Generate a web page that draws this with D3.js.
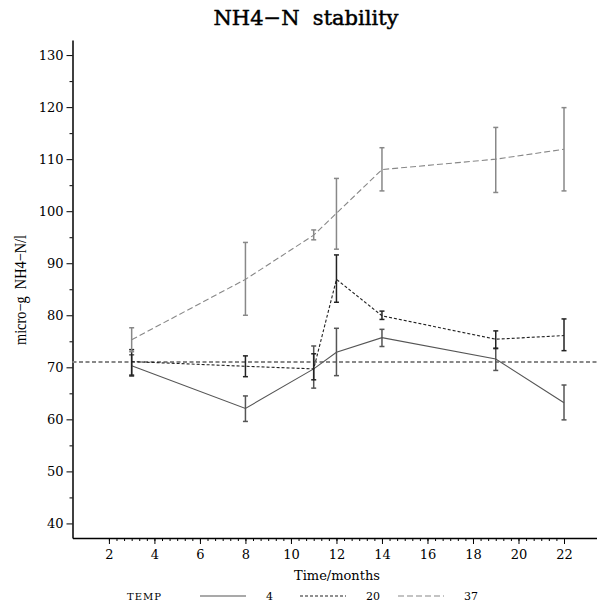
<!DOCTYPE html>
<head>
  <meta charset="utf-8">
  <title>NH4-N stability</title>
  <script src="https://d3js.org/d3.v7.min.js"></script>
  <style>
    body { margin: 0; background: #fff; }
    text { font-family: "DejaVu Serif", serif; }
  </style>
</head>
<body>
  <div id="chart"></div>

  <script type="text/javascript">

    // sampling times (months)
    var months = [3, 8, 11, 12, 14, 19, 22];

    // TEMP = 4
    var mean4 = [70.3, 62.1, 69.7, 72.9, 75.7, 71.6, 63.2];
    var low4  = [68.3, 59.6, 66.0, 68.4, 74.0, 69.4, 59.9];
    var high4 = [72.4, 64.5, 74.1, 77.5, 77.3, 73.7, 66.6];

    // TEMP = 20
    var mean20 = [71.1, 70.2, 69.7, 86.9, 79.9, 75.4, 76.1];
    var low20  = [68.5, 68.2, 67.6, 82.5, 79.2, 73.6, 73.2];
    var high20 = [73.4, 72.2, 72.6, 91.6, 80.8, 77.0, 79.3];

    // TEMP = 37
    var mean37 = [75.3, 86.9, 95.4, 99.6, 108.0, 110.0, 111.9];
    var low37  = [73.0, 80.0, 94.5, 92.7, 103.9, 103.6, 103.9];
    var high37 = [77.6, 94.0, 96.4, 106.3, 112.2, 116.1, 119.9];

    // reference level
    var refLevel = 71;

    var xTicks = [2, 4, 6, 8, 10, 12, 14, 16, 18, 20, 22];
    var yTicks = [40, 50, 60, 70, 80, 90, 100, 110, 120, 130];

    var series = [
      { name: '4',  mean: mean4,  low: low4,  high: high4,  color: '#555', dash: null },
      { name: '20', mean: mean20, low: low20, high: high20, color: '#222', dash: '3,2' },
      { name: '37', mean: mean37, low: low37, high: high37, color: '#888', dash: '6,3' }
    ];

    var width = 597, height = 604;

    var svg = d3.select('#chart').append('svg')
      .attr('width', width)
      .attr('height', height);

    var x = d3.scaleLinear().domain([0.4, 23.45]).range([72.5, 597]);
    var y = d3.scaleLinear().domain([37.2, 132.9]).range([538, 40]);

    // title
    svg.append('text')
      .attr('x', 306).attr('y', 25)
      .attr('text-anchor', 'middle')
      .style('font-size', '21px')
      .attr('stroke', '#000')
      .attr('stroke-width', 0.5)
      .text('NH4\u2212N\u00a0\u00a0stability');

    // minor ticks x (every 1/3 month between 2 and 22)
    var xMinor = d3.range(2, 22.01, 1 / 3);
    svg.append('g')
      .attr('transform', 'translate(0,538)')
      .call(d3.axisBottom(x).tickValues(xMinor).tickSize(3).tickFormat(''))
      .call(function(g) { g.select('.domain').remove(); });

    // minor ticks y
    var yMinor = d3.range(45, 130, 10);
    svg.append('g')
      .attr('transform', 'translate(72.5,0)')
      .call(d3.axisLeft(y).tickValues(yMinor).tickSize(3).tickFormat(''))
      .call(function(g) { g.select('.domain').remove(); });

    // x axis
    var gx = svg.append('g')
      .attr('transform', 'translate(0,538)')
      .call(d3.axisBottom(x).tickValues(xTicks).tickSize(6).tickSizeOuter(0).tickPadding(6));
    gx.select('.domain').attr('stroke-width', 1.5);
    gx.selectAll('text').style('font-size', '13px').style('font-family', '"DejaVu Serif", serif');

    // y axis
    var gy = svg.append('g')
      .attr('transform', 'translate(72.5,0)')
      .call(d3.axisLeft(y).tickValues(yTicks).tickSize(6).tickSizeOuter(0).tickPadding(3));
    gy.select('.domain').attr('stroke-width', 1.5);
    gy.selectAll('text').style('font-size', '13px').style('font-family', '"DejaVu Serif", serif');

    // axis titles
    svg.append('text')
      .attr('x', 337).attr('y', 580)
      .attr('text-anchor', 'middle')
      .style('font-size', '13px')
      .text('Time/months');

    svg.append('text')
      .attr('transform', 'translate(26,290) rotate(-90)')
      .attr('text-anchor', 'middle')
      .style('font-family', '"Liberation Serif", serif')
      .style('font-size', '17px')
      .attr('textLength', 110)
      .attr('lengthAdjust', 'spacingAndGlyphs')
      .text('micro\u2212g\u00a0\u00a0NH4\u2212N/l');

    // reference line
    svg.append('line')
      .attr('x1', x.range()[0]).attr('x2', x.range()[1])
      .attr('y1', y(refLevel)).attr('y2', y(refLevel))
      .attr('stroke', '#888')
      .attr('stroke-width', 2)
      .attr('stroke-dasharray', '4,2.5');

    var line = d3.line()
      .x(function(d) { return x(d.t); })
      .y(function(d) { return y(d.v); });

    series.forEach(function(s) {
      var pts = months.map(function(t, i) {
        return { t: t, v: s.mean[i], lo: s.low[i], hi: s.high[i] };
      });

      svg.append('path')
        .datum(pts)
        .attr('d', line)
        .attr('fill', 'none')
        .attr('stroke', s.color)
        .attr('stroke-width', 1.1)
        .attr('stroke-dasharray', s.dash);

      var bars = svg.append('g')
        .attr('stroke', s.color)
        .attr('stroke-width', 1.5);

      bars.selectAll('.bar').data(pts).enter().append('line')
        .attr('x1', function(d) { return x(d.t); })
        .attr('x2', function(d) { return x(d.t); })
        .attr('y1', function(d) { return y(d.lo); })
        .attr('y2', function(d) { return y(d.hi); });

      bars.selectAll('.capLo').data(pts).enter().append('line')
        .attr('x1', function(d) { return x(d.t) - 2.5; })
        .attr('x2', function(d) { return x(d.t) + 2.5; })
        .attr('y1', function(d) { return y(d.lo); })
        .attr('y2', function(d) { return y(d.lo); });

      bars.selectAll('.capHi').data(pts).enter().append('line')
        .attr('x1', function(d) { return x(d.t) - 2.5; })
        .attr('x2', function(d) { return x(d.t) + 2.5; })
        .attr('y1', function(d) { return y(d.hi); })
        .attr('y2', function(d) { return y(d.hi); });
    });

    // legend
    var legend = svg.append('g');
    legend.append('text')
      .attr('x', 127).attr('y', 600)
      .style('font-size', '10px')
      .style('letter-spacing', '1px')
      .text('TEMP');

    var legendX = [200, 300, 398];
    series.forEach(function(s, i) {
      legend.append('line')
        .attr('x1', legendX[i]).attr('x2', legendX[i] + 46)
        .attr('y1', 596).attr('y2', 596)
        .attr('stroke', s.color)
        .attr('stroke-width', 1.1)
        .attr('stroke-dasharray', s.dash);
      legend.append('text')
        .attr('x', legendX[i] + 66).attr('y', 600)
        .style('font-size', '11px')
        .text(s.name);
    });
  </script>
</body>
